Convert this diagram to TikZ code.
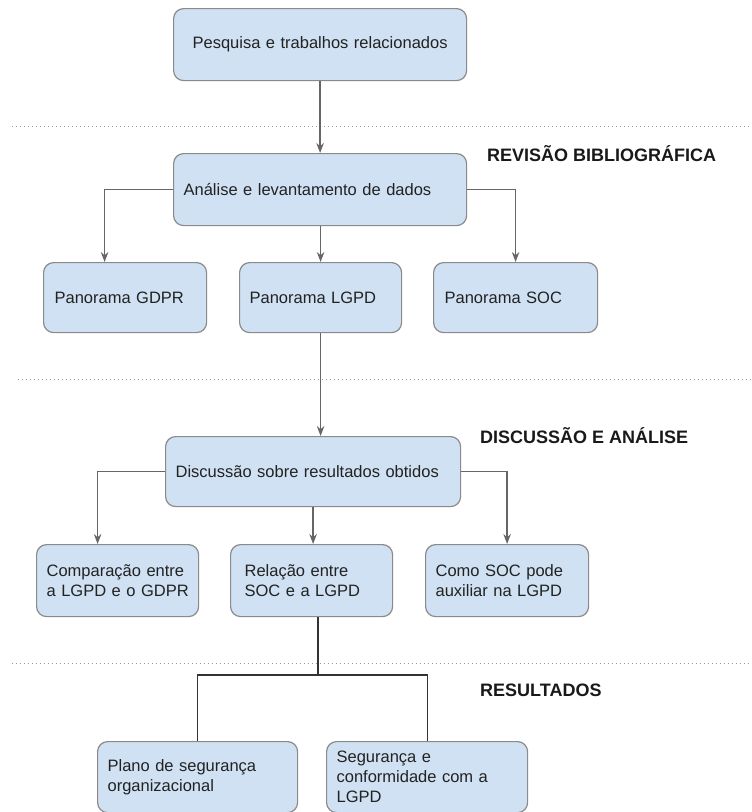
\documentclass[tikz,border=0pt]{standalone}
\usepackage{fontspec}
\setmainfont{Liberation Sans}
\usetikzlibrary{arrows.meta,calc}
\definecolor{boxfill}{HTML}{CFE1F2}
\definecolor{boxdraw}{HTML}{8A8A8A}
\definecolor{arrcol}{HTML}{666666}
\definecolor{txt}{HTML}{222222}
\tikzset{
  box/.style={draw=boxdraw, fill=boxfill, rounded corners=10pt, line width=1.2pt,
    anchor=north west, inner xsep=10pt, inner ysep=1pt, align=left,
    font=\fontsize{16.5}{20}\selectfont, text=txt},
  arr/.style={draw=arrcol, line width=1.4pt, -{Stealth[length=10pt,width=7.5pt]}},
  conn/.style={draw=black!80, line width=1.2pt},
  sep/.style={draw=gray!80, line width=1pt, dash pattern=on 1pt off 3pt},
  phase/.style={anchor=west, inner sep=0pt, font=\fontsize{18}{20}\selectfont\bfseries, text=black!90}
}
\begin{document}
\begin{tikzpicture}[x=1pt,y=-1pt]
\useasboundingbox (0,0) rectangle (752,812);
% boxes
\node[box, minimum width=293pt, minimum height=72pt, align=center, text width=273pt] (pesq) at (173,8) {Pesquisa e trabalhos relacionados};
\node[box, minimum width=293pt, minimum height=72pt, text width=273pt] (ana) at (173,153) {Análise e levantamento de dados};
\node[box, minimum width=163pt, minimum height=70pt, text width=141pt, inner xsep=11pt] (gdpr) at (43,262) {Panorama GDPR};
\node[box, minimum width=162pt, minimum height=70pt, text width=142pt] (lgpd) at (239,262) {Panorama LGPD};
\node[box, minimum width=162pt, minimum height=70pt, text width=142pt, inner xsep=11pt] (soc) at (433,262) {Panorama SOC};
\node[box, minimum width=295pt, minimum height=70pt, text width=275pt] (disc) at (165,436) {Discussão sobre resultados obtidos};
\node[box, minimum width=162pt, minimum height=72pt, text width=142pt] (comp) at (36,544) {Comparação~entre\\a~LGPD~e~o~GDPR};
\node[box, minimum width=162pt, minimum height=72pt, text width=134pt, inner xsep=14pt] (rel) at (230,544) {Relação entre\\SOC e a LGPD};
\node[box, minimum width=163pt, minimum height=72pt, text width=143pt] (como) at (425,544) {Como SOC pode\\auxiliar na LGPD};
\node[box, minimum width=200pt, minimum height=71pt, text width=180pt] (plano) at (97,741) {Plano de segurança\\organizacional};
\node[box, minimum width=201pt, minimum height=71pt, text width=181pt] (seg) at (326,741) {Segurança e\\conformidade com a\\LGPD};
% phase labels
\node[phase] (l1) at (487,154) {REVISÃO BIBLIOGRÁFICA};
\node[phase] (l2) at (480,436) {DISCUSSÃO E ANÁLISE};
\node[phase] (l3) at (480,690) {RESULTADOS};
% separators
\draw[sep] (12,126) -- (752,126);
\draw[sep] (18,379) -- (752,379);
\draw[sep] (12,663) -- (752,663);
% connectors
\draw[arr] (pesq.south) -- (ana.north);
\draw[arr] (ana.west) -| ([xshift=-20.5pt]gdpr.north);
\draw[arr] (lgpd.north |- ana.south) -- (lgpd.north);
\draw[arr] (ana.east) -| (soc.north);
\draw[arr] (lgpd.south) -- (lgpd.south |- disc.north);
\draw[arr] (disc.west) -| ([xshift=-20pt]comp.north);
\draw[arr] (disc.south) -- (disc.south |- rel.north);
\draw[arr] (disc.east) -| (como.north);
\coordinate (j) at (318,675);
\draw[conn] (j |- rel.south) -- (j);
\draw[conn] (plano.north) |- (j) -| (seg.north);
\end{tikzpicture}
\end{document}
